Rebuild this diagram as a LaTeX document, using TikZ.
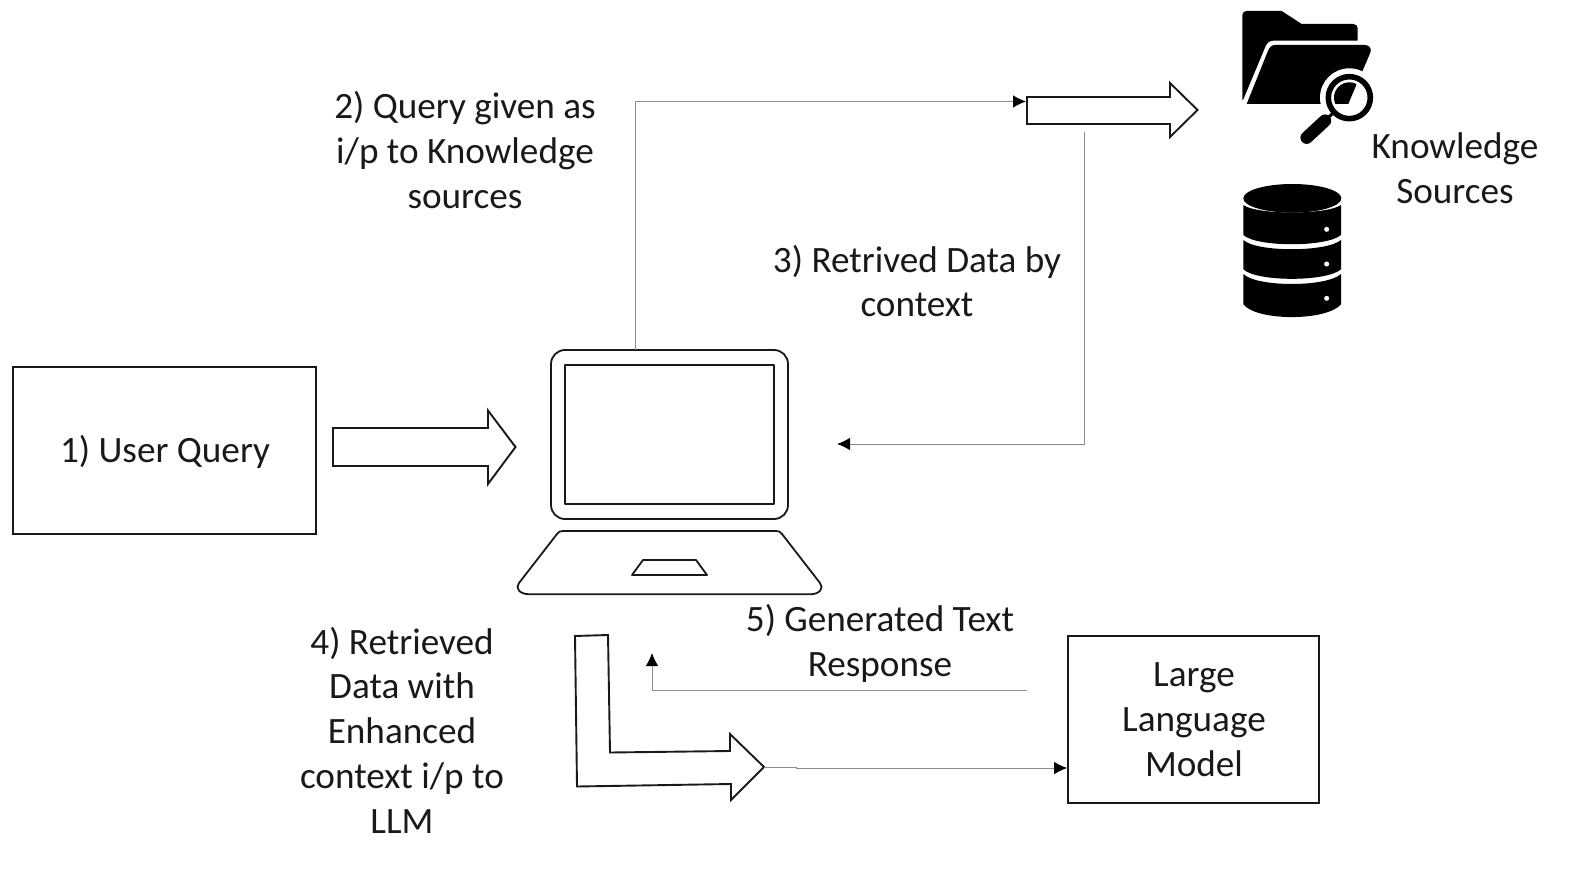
\documentclass[tikz,border=0pt]{standalone}
\usepackage{fontspec}
\setmainfont{Carlito}
\usetikzlibrary{arrows.meta,calc}
\tikzset{
  lbl/.style={align=center,inner sep=0pt,font=\fontsize{37.2}{44.7}\selectfont,text=black!90},
  txtbox/.style={draw=black!90,line width=1.7pt,inner sep=0pt},
  hollow/.style={draw=black!90,line width=1.9pt,fill=white,line join=miter},
  conn/.style={draw=black!45,line width=0.9pt,-{Latex[black,length=13pt,width=12.5pt]}},
  ico/.style={fill=black,draw=none},
  lap/.style={draw=black!90,line width=1.8pt,fill=white,line join=round}
}
\begin{document}
\begin{tikzpicture}[x=1pt,y=-1pt]
\useasboundingbox (0,0) rectangle (1577,872);
\node[txtbox,minimum width=303pt,minimum height=167pt] (user) at (164.5,450.5) {};
\node[lbl] (usert) at (165,451.5) {1) User Query};
\node[txtbox,minimum width=251pt,minimum height=167pt] (llm) at (1193.5,719.5) {};
\node[lbl] (llmt) at (1194,719.5) {Large\\Language\\Model};
% laptop
\node[lap,rounded corners=14pt,minimum width=237pt,minimum height=169pt,inner sep=0pt] (lid) at (669.5,434.5) {};
\node[lap,minimum width=209pt,minimum height=139pt,inner sep=0pt] (screen) at (669.5,434.5) {};
\draw[lap] (563,531) -- (776,531) .. controls (779,531) and (780,531.5) .. (782,534) -- (820,583) .. controls (824,588) and (820,594.3) .. (810,594.3) -- (530,594.3) .. controls (519,594.3) and (515,588) .. (519,583) -- (557,534) .. controls (559,531.5) and (560,531) .. (563,531) -- cycle;
\draw[lap] (643,560) -- (696,560) -- (707,575) -- (632,575) -- cycle;
% hollow arrows
\draw[hollow] (333,428) -- (488,428) -- (488,410.5) -- (515.5,447) -- (488,484) -- (488,466) -- (333,466) -- cycle;
\draw[hollow] (1027,97) -- (1170,97) -- (1170,83) -- (1197.5,110) -- (1170,137) -- (1170,124) -- (1027,124) -- cycle;
\draw[hollow] (575,636) -- (608,635) -- (610,752.5) -- (730,751) -- (730,734) -- (764,767) -- (731,800) -- (731,784) -- (577,786.5) -- cycle;
% connector anchors
\coordinate (q2s) at (635.5,350);
\coordinate (q2e) at (1026,101.5);
\coordinate (q3s) at (1084.5,132);
\coordinate (q3e) at (837,444);
\coordinate (q5s) at (1027,690.5);
\coordinate (q5e) at (652,653);
\coordinate (q4s) at (764,767);
\draw[conn] (q2s) |- (q2e);
\draw[conn] (q3s) |- (q3e);
\draw[conn] (q5s) -| (q5e);
\draw[conn] (q4s) -- (796,767) -- (796,768) -- (llm.west |- 0,768);
% labels
\node[lbl] at (465,150) {2) Query given as\\i/p to Knowledge\\sources};
\node[lbl] at (917,281) {3) Retrived Data by\\context};
\node[lbl] at (1455,168) {Knowledge\\Sources};
\node[lbl] at (402,730) {4) Retrieved\\Data with\\Enhanced\\context i/p to\\LLM};
\node[lbl] at (880,643.5) {5) Generated Text\\Response};
% folder icon
\begin{scope}[shift={(1210,0)},x=0.3333pt,y=-0.3333pt]
\path[ico] (97,45) .. controls (97,37) and (103,33) .. (110,33) -- (215,33) -- (275,72) -- (430,72) .. controls (438,72) and (443,78) .. (443,85) -- (443,122) -- (190,122) .. controls (178,122) and (172,128) .. (167,138) -- (100,298) -- (97,300) -- cycle;
\path[ico] (195,135) -- (465,135) .. controls (478,135) and (486,146) .. (481,158) -- (415,312) -- (110,312) -- (173,155) .. controls (178,142) and (184,135) .. (195,135) -- cycle;
\fill[white] (418,293) circle (88);
\begin{scope}
\clip (418,293) circle (46);
\path[ico] (300,200) -- (462,200) -- (415,312) -- (300,312) -- cycle;
\end{scope}
\draw[black,line width=5.6pt] (418,293) circle (63);
\draw[black,line width=3pt] (368,340) -- (345,362);
\draw[black,line width=12.5pt,line cap=round] (345,362) -- (290,413);
\end{scope}
% database icon
\begin{scope}[shift={(1210,170)},x=0.3333pt,y=-0.3333pt]
\path[ico] (247,85) ellipse (147 and 43);
\path[ico] (100,105) .. controls (140,135) and (350,135) .. (393,105) -- (393,195) .. controls (350,232) and (140,232) .. (100,195) -- cycle;
\path[ico] (100,210) .. controls (140,247) and (350,247) .. (393,210) -- (393,298) .. controls (350,336) and (140,336) .. (100,298) -- cycle;
\path[ico] (100,312) .. controls (140,352) and (350,352) .. (393,312) -- (393,403) .. controls (350,454) and (140,454) .. (100,403) -- cycle;
\fill[white] (350,178) circle (7.5);
\fill[white] (350,282) circle (7.5);
\fill[white] (350,385) circle (7.5);
\end{scope}
\end{tikzpicture}
\end{document}
